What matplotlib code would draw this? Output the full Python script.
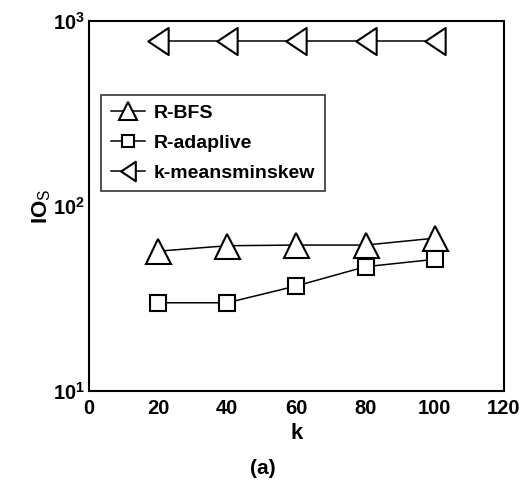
import matplotlib
matplotlib.use("Agg")
import matplotlib.pyplot as plt
from matplotlib.path import Path
from matplotlib.ticker import FixedLocator

plt.rcParams['font.family'] = ['Liberation Sans', 'DejaVu Sans']
plt.rcParams['mathtext.fontset'] = 'custom'
plt.rcParams['mathtext.rm'] = 'Liberation Sans'
plt.rcParams['mathtext.it'] = 'Liberation Sans'
plt.rcParams['mathtext.bf'] = 'Liberation Sans:bold'

k = [20, 40, 60, 80, 100]
r_bfs = [57, 61, 61.5, 61.5, 67]
r_adaptive = [30, 30, 37, 47, 51.5]
kmeans_minskew = [780, 780, 780, 780, 780]

# tall, narrow left-pointing triangle
left_tri = Path([(-0.75, 0), (0.75, 1), (0.75, -1), (-0.75, 0)],
                [Path.MOVETO, Path.LINETO, Path.LINETO, Path.CLOSEPOLY])

fig = plt.figure(figsize=(5.26, 4.87), dpi=100)
ax = fig.add_axes([0.169, 0.197, 0.789, 0.760])

style = dict(color='black', lw=1.1, markerfacecolor='white',
             markeredgecolor='black', markeredgewidth=1.5)
ax.plot(k, r_bfs, marker='^', markersize=18, label='R-BFS', **style)
ax.plot(k, r_adaptive, marker='s', markersize=12, label='R-adaplive', **style)
ax.plot(k, kmeans_minskew, marker=left_tri, markersize=19.5,
        label='k-meansminskew', **style)

ax.set_yscale('log')
ax.set_ylim(10, 1000)
ax.set_xlim(0, 120)
ax.set_xticks([0, 20, 40, 60, 80, 100, 120])
ax.yaxis.set_major_locator(FixedLocator([10, 100, 1000]))
ax.yaxis.set_minor_locator(FixedLocator([]))
ax.tick_params(axis='both', length=0, labelsize=14.5)
ax.tick_params(axis='x', pad=6)
ax.tick_params(axis='y', pad=3)
for t in ax.get_xticklabels() + ax.get_yticklabels():
    t.set_fontweight('bold')
for s in ax.spines.values():
    s.set_linewidth(1.5)

ax.set_xlabel('k', fontsize=16, fontweight='bold', labelpad=3)
ax.set_ylabel(r'IO$_\mathrm{S}$', fontsize=16, fontweight='bold', labelpad=0)

leg = ax.legend(loc='upper left', bbox_to_anchor=(0.029, 0.54, 0.54, 0.26),
                mode='expand', borderaxespad=0, fontsize=14,
                frameon=True, fancybox=False, edgecolor='black',
                handlelength=1.75, handletextpad=0.45, borderpad=0.5,
                labelspacing=0.62, markerscale=0.72)
leg.get_frame().set_linewidth(1.2)
for t in leg.get_texts():
    t.set_fontweight('bold')

fig.text(0.5, 0.039, '(a)', ha='center', va='center', fontsize=15, fontweight='bold')

fig.savefig('out.png', dpi=100)
